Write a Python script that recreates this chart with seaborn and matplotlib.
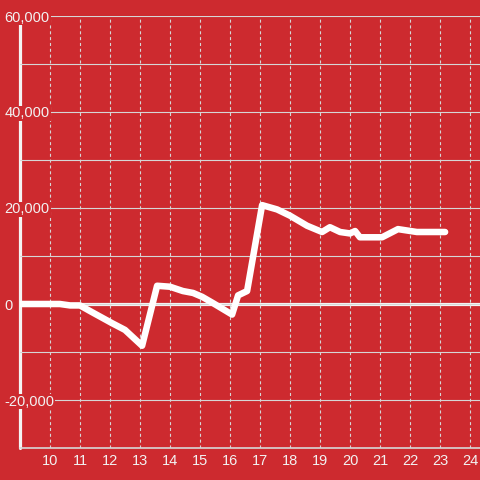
import matplotlib
matplotlib.use("Agg")
import matplotlib.pyplot as plt
import seaborn as sns
import pandas as pd

# ---- data ----
hours = [9.0, 10.33, 10.67, 11.0, 11.4, 12.07, 12.5, 13.07, 13.57, 14.0, 14.43, 14.77,
         15.07, 15.43, 16.07, 16.27, 16.57, 17.07, 17.57, 18.0, 18.57, 19.07, 19.33,
         19.67, 20.0, 20.17, 20.33, 21.07, 21.6, 22.23, 23.17]
values = [0, 0, -300, -300, -1700, -4000, -5400, -8700, 3800, 3600, 2700, 2300,
          1500, 200, -2200, 1800, 2700, 20600, 19700, 18400, 16300, 15000, 16000,
          15000, 14700, 15200, 13900, 13900, 15600, 15000, 15000]
x_ticks = list(range(10, 25))
y_major = [-20000, 0, 20000, 40000, 60000]
y_minor = [-30000, -10000, 10000, 30000, 50000]

RED = "#cd2a2f"
GRID = "#d6d6d6"
TXT = "#f2f2f2"

sns.set_style("white")
plt.rcParams["font.family"] = ["Liberation Sans", "DejaVu Sans"]
plt.rcParams["lines.scale_dashes"] = False

fig = plt.figure(figsize=(4.8, 4.8), dpi=100, facecolor=RED)
ax = fig.add_axes([20 / 480, 32 / 480, 460 / 480, 432 / 480])
ax.set_facecolor(RED)
ax.set_axisbelow(True)

df = pd.DataFrame({"hour": hours, "value": values})
sns.lineplot(data=df, x="hour", y="value", ax=ax, color="white", lw=4.7,
             sort=False, estimator=None, zorder=5)

ax.set_xlim(9, 24 + 10 / 30)
ax.set_ylim(-30000, 60000)

ax.set_xticks(x_ticks)
ax.set_xticklabels([str(t) for t in x_ticks])
ax.set_yticks(y_major)
ax.set_yticklabels([f"{v:,}" for v in y_major])
ax.set_yticks(y_minor, minor=True)

ax.grid(axis="x", which="major", color=GRID, lw=0.8, linestyle=(0, (2.2, 2.0)))
ax.grid(axis="y", which="both", color=GRID, lw=0.8, linestyle="-")

ax.tick_params(axis="x", length=0, pad=4, labelsize=10.5, labelcolor=TXT)
ax.tick_params(axis="y", which="both", length=0, pad=11, labelsize=10.5, labelcolor=TXT)
for lab in ax.get_yticklabels():
    lab.set_horizontalalignment("left")
    lab.set_bbox(dict(facecolor=RED, edgecolor="none", pad=0.5))

for s in ax.spines.values():
    s.set_visible(False)

# axis line, zero line, bottom line
ax.axvline(9, color="#f4f4f4", lw=2.3, zorder=0.3, clip_on=False)
ax.axhline(0, color="#f4f4f4", lw=2.3, zorder=0.3)
ax.axhline(-30000, color=GRID, lw=1.2, zorder=0.3, clip_on=False)

ax.set_xlabel("")
ax.set_ylabel("")

fig.savefig("out.png", dpi=100, facecolor=RED)
